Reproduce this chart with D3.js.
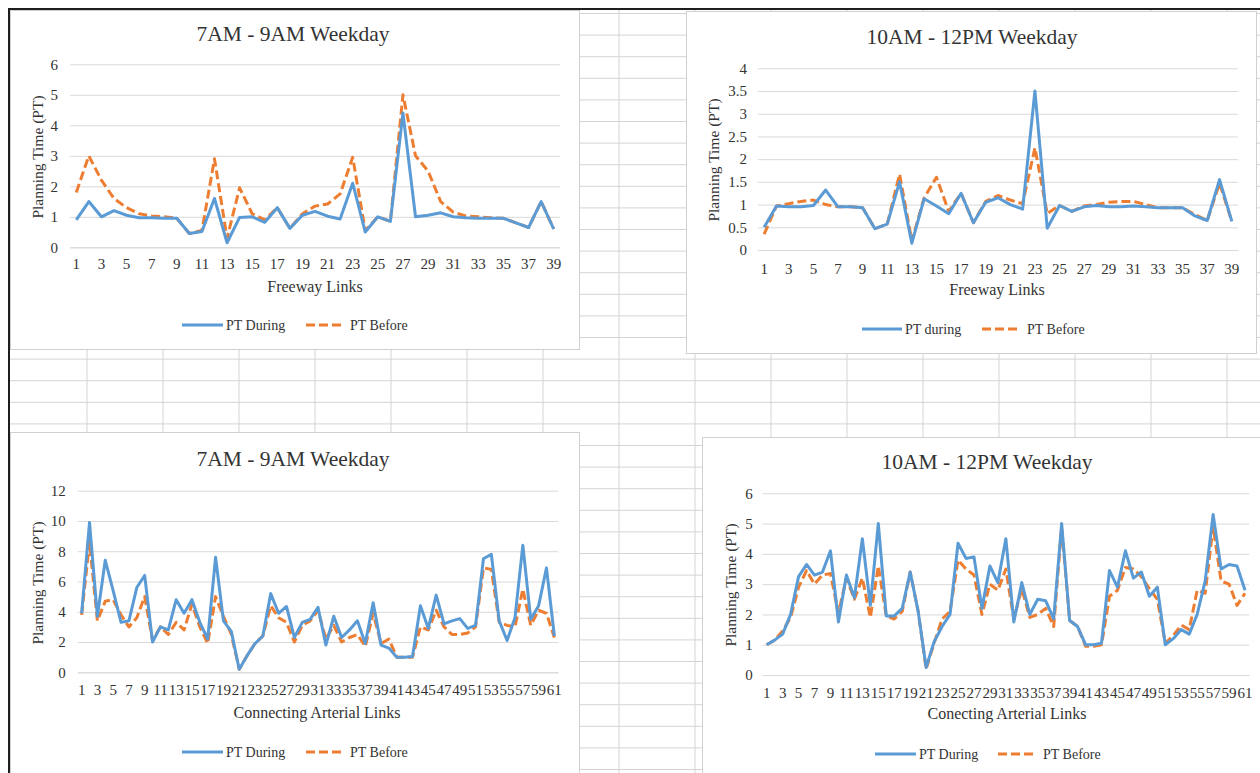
<!DOCTYPE html>
<html>
<head>
<meta charset="utf-8">
<script src="https://cdn.jsdelivr.net/npm/d3@7"></script>
<style>
  body { margin: 0; background: #ffffff; }
  svg { display: block; }
  text { font-family: "Liberation Serif", "Times New Roman", serif; fill: #333333; }
</style>
</head>
<body>
<svg id="chart" width="1260" height="773"></svg>
<script>
// ---------------- DATA ----------------
const freewayLinks = d3.range(1, 40);   // categories 1..39
const arterialLinks = d3.range(1, 62);  // categories 1..61

const freewayTickLabels = freewayLinks.filter(d => d % 2 === 1);
const arterialTickLabels = arterialLinks.filter(d => d % 2 === 1);

const yTicksFreewayAM = [0, 1, 2, 3, 4, 5, 6];
const yTicksFreewayMid = [0, 0.5, 1, 1.5, 2, 2.5, 3, 3.5, 4];
const yTicksArterialAM = [0, 2, 4, 6, 8, 10, 12];
const yTicksArterialMid = [0, 1, 2, 3, 4, 5, 6];

// Freeway 7AM-9AM
const fwAmDuring = [0.9, 1.5, 1.0, 1.2, 1.05, 0.97, 0.97, 0.95, 0.95, 0.45,
  0.52, 1.6, 0.15, 0.98, 1.0, 0.82, 1.3, 0.62, 1.05, 1.18,
  1.02, 0.93, 2.1, 0.5, 1.0, 0.85, 4.4, 1.0, 1.05, 1.13,
  1.0, 0.97, 0.95, 0.95, 0.95, 0.8, 0.65, 1.5, 0.6];
const fwAmBefore = [1.8, 3.0, 2.2, 1.6, 1.3, 1.1, 1.03, 1.0, 0.95, 0.45,
  0.55, 2.9, 0.3, 1.95, 1.1, 0.9, 1.3, 0.62, 1.1, 1.35,
  1.42, 1.75, 2.95, 0.55, 1.0, 0.85, 5.0, 3.0, 2.5, 1.5,
  1.15, 1.03, 1.0, 0.97, 0.95, 0.8, 0.65, 1.5, 0.6];

// Freeway 10AM-12PM
const fwMidDuring = [0.5, 0.97, 0.95, 0.95, 0.98, 1.32, 0.95, 0.95, 0.93, 0.47,
  0.57, 1.5, 0.15, 1.13, 0.97, 0.8, 1.25, 0.6, 1.05, 1.15,
  1.0, 0.9, 3.5, 0.48, 0.98, 0.85, 0.95, 0.98, 0.95, 0.95,
  0.97, 0.95, 0.93, 0.93, 0.93, 0.75, 0.65, 1.55, 0.63];
const fwMidBefore = [0.35, 0.97, 1.02, 1.07, 1.1, 1.0, 0.95, 0.95, 0.93, 0.47,
  0.57, 1.67, 0.2, 1.15, 1.6, 0.85, 1.25, 0.6, 1.07, 1.2,
  1.1, 1.02, 2.25, 0.8, 0.98, 0.85, 0.97, 1.0, 1.05, 1.07,
  1.07, 1.0, 0.93, 0.93, 0.93, 0.78, 0.65, 1.47, 0.63];

// Arterial 7AM-9AM
const artAmDuring = [3.9, 9.9, 3.7, 7.4, 5.4, 3.3, 3.4, 5.6, 6.4, 2.0,
  3.0, 2.8, 4.8, 3.9, 4.8, 3.3, 2.2, 7.6, 3.4, 2.7,
  0.2, 1.1, 1.9, 2.4, 5.2, 3.9, 4.35, 2.3, 3.3, 3.5,
  4.3, 1.8, 3.7, 2.3, 2.8, 3.4, 1.9, 4.6, 1.8, 1.6,
  1.0, 1.0, 1.05, 4.4, 2.9, 5.1, 3.2, 3.4, 3.55, 2.9,
  3.1, 7.5, 7.8, 3.4, 2.1, 3.6, 8.4, 3.5, 4.4, 6.9, 2.4];
const artAmBefore = [3.8, 8.6, 3.4, 4.7, 4.8, 3.8, 3.0, 3.6, 5.0, 2.1,
  3.0, 2.5, 3.3, 2.8, 4.5, 3.0, 1.9, 5.0, 3.7, 2.5,
  0.2, 1.1, 1.9, 2.4, 4.4, 3.6, 3.3, 2.0, 3.1, 3.4,
  4.1, 2.2, 3.1, 2.0, 2.3, 2.5, 1.7, 3.9, 1.9, 2.2,
  1.0, 1.0, 1.0, 3.0, 2.8, 4.1, 3.0, 2.5, 2.5, 2.6,
  3.0, 6.9, 6.8, 3.3, 3.1, 3.0, 5.5, 3.1, 4.1, 3.9, 2.3];

// Arterial 10AM-12PM
const artMidDuring = [1.0, 1.15, 1.35, 2.0, 3.25, 3.65, 3.3, 3.4, 4.1, 1.75,
  3.3, 2.55, 4.5, 2.3, 5.0, 1.95, 1.95, 2.2, 3.4, 2.1,
  0.25, 1.1, 1.6, 2.0, 4.35, 3.85, 3.9, 2.2, 3.6, 3.05,
  4.5, 1.75, 3.05, 2.0, 2.5, 2.45, 1.85, 5.0, 1.8, 1.6,
  1.0, 1.0, 1.05, 3.45, 2.9, 4.1, 3.2, 3.4, 2.6, 2.9,
  1.0, 1.2, 1.5, 1.35, 2.0, 3.1, 5.3, 3.5, 3.65, 3.6, 2.8];
const artMidBefore = [1.0, 1.15, 1.45, 1.9, 2.9, 3.45, 3.0, 3.3, 3.35, 2.05,
  3.2, 2.5, 3.2, 1.9, 3.6, 1.95, 1.85, 2.1, 3.4, 2.1,
  0.2, 1.05, 1.85, 2.1, 3.8, 3.5, 3.3, 2.0, 3.0, 2.8,
  3.5, 1.85, 2.85, 1.9, 2.0, 2.2, 1.6, 4.9, 1.8, 1.6,
  0.95, 0.95, 1.0, 2.6, 2.8, 3.55, 3.5, 3.25, 2.85, 2.5,
  1.05, 1.3, 1.65, 1.5, 2.8, 2.7, 4.9, 3.1, 3.0, 2.3, 2.7];

// ---------------- STYLE ----------------
const BLUE = "#5b9bd5";
const ORANGE = "#ed7d31";
const GRID = "#d9d9d9";
const DASH = "9,4";
const TICK_FONT = "15px";

const svg = d3.select("#chart");

// Spreadsheet background grid
const sheet = svg.append("g");
const colXs = d3.range(1, 17).map(k => 11 + 76 * k);
const rowYs = d3.range(0, 36).map(k => 13.5 + 21.6 * k);
sheet.selectAll("line.col").data(colXs).join("line")
  .attr("x1", d => d).attr("x2", d => d).attr("y1", 9).attr("y2", 773)
  .attr("stroke", "#d4d4d4").attr("stroke-width", 1);
sheet.selectAll("line.row").data(rowYs).join("line")
  .attr("x1", 9).attr("x2", 1260).attr("y1", d => d).attr("y2", d => d)
  .attr("stroke", "#d4d4d4").attr("stroke-width", 1);

function drawChart(cfg) {
  const g = svg.append("g");
  const p = cfg.panel;
  g.append("rect").attr("x", p[0] + 0.5).attr("y", p[1] + 0.5)
    .attr("width", p[2]).attr("height", p[3])
    .attr("fill", "#ffffff").attr("stroke", "#d0d0d0").attr("stroke-width", 1);

  const x = d3.scaleBand().domain(cfg.categories).range([cfg.x0, cfg.x1]).padding(0);
  const cx = d => x(d) + x.bandwidth() / 2;
  const y = d3.scaleLinear().domain([0, cfg.yMax]).range([cfg.y0, cfg.y1]);

  // title
  g.append("text").attr("x", cfg.titleX).attr("y", cfg.titleY)
    .attr("text-anchor", "middle").attr("dy", "0.35em")
    .style("font-size", "21.5px").text(cfg.title);

  // gridlines + y labels
  const yAxis = g.append("g").attr("transform", `translate(${cfg.x0},0)`)
    .call(d3.axisLeft(y).tickValues(cfg.yTicks).tickSize(-(cfg.x1 - cfg.x0))
      .tickPadding(cfg.yPad).tickFormat(d => String(d)));
  yAxis.select(".domain").remove();
  yAxis.selectAll(".tick line").attr("stroke", GRID).attr("stroke-width", 1);
  yAxis.selectAll(".tick text").style("font-size", TICK_FONT)
    .style("font-family", "'Liberation Serif', serif").attr("fill", "#333");

  // x axis
  const xAxis = g.append("g").attr("transform", `translate(0,${cfg.y0})`)
    .call(d3.axisBottom(x).tickValues(cfg.xTicks).tickSize(0).tickPadding(cfg.xPad));
  xAxis.select(".domain").attr("stroke", GRID);
  xAxis.selectAll(".tick text").style("font-size", TICK_FONT)
    .style("font-family", "'Liberation Serif', serif").attr("fill", "#333");

  // axis titles
  g.append("text").attr("x", cfg.xTitleX).attr("y", cfg.xTitleY)
    .attr("text-anchor", "middle").attr("dy", "0.35em")
    .style("font-size", "16px").text(cfg.xTitle);
  g.append("text").attr("transform", `translate(${cfg.yTitleX},${cfg.yTitleY}) rotate(-90)`)
    .attr("text-anchor", "middle").attr("dy", "0.35em")
    .style("font-size", "15.5px").text("Planning Time (PT)");

  // series
  const line = d3.line().x((d, i) => cx(cfg.categories[i])).y(d => y(d));
  g.append("path").datum(cfg.before).attr("d", line)
    .attr("fill", "none").attr("stroke", ORANGE).attr("stroke-width", 3)
    .attr("stroke-dasharray", DASH).attr("stroke-linejoin", "round");
  g.append("path").datum(cfg.during).attr("d", line)
    .attr("fill", "none").attr("stroke", BLUE).attr("stroke-width", 3)
    .attr("stroke-linejoin", "round");

  // legend
  const L = cfg.legend;
  g.append("line").attr("x1", L.b1).attr("x2", L.b2).attr("y1", L.y).attr("y2", L.y)
    .attr("stroke", BLUE).attr("stroke-width", 3);
  g.append("text").attr("x", L.t1).attr("y", L.y).attr("dy", "0.35em")
    .style("font-size", "14px").text(cfg.duringLabel);
  g.append("line").attr("x1", L.o1).attr("x2", L.o2).attr("y1", L.y).attr("y2", L.y)
    .attr("stroke", ORANGE).attr("stroke-width", 3).attr("stroke-dasharray", DASH);
  g.append("text").attr("x", L.t2).attr("y", L.y).attr("dy", "0.35em")
    .style("font-size", "14px").text("PT Before");
}

drawChart({
  panel: [10, 10, 569, 339],
  categories: freewayLinks, xTicks: freewayTickLabels,
  yTicks: yTicksFreewayAM, yMax: 6,
  x0: 70, x1: 560, y0: 247.3, y1: 64.3, yPad: 12, xPad: 11.3,
  title: "7AM - 9AM Weekday", titleX: 293, titleY: 33,
  xTitle: "Freeway Links", xTitleX: 315, xTitleY: 286,
  yTitleX: 38, yTitleY: 157,
  during: fwAmDuring, before: fwAmBefore, duringLabel: "PT During",
  legend: { y: 325, b1: 182, b2: 223, t1: 226, o1: 306, o2: 345, t2: 350 }
});

drawChart({
  panel: [686, 11, 570, 342],
  categories: freewayLinks, xTicks: freewayTickLabels,
  yTicks: yTicksFreewayMid, yMax: 4,
  x0: 758, x1: 1238, y0: 250, y1: 68.3, yPad: 11, xPad: 13.3,
  title: "10AM - 12PM Weekday", titleX: 972, titleY: 36,
  xTitle: "Freeway Links", xTitleX: 997, xTitleY: 289,
  yTitleX: 714, yTitleY: 160,
  during: fwMidDuring, before: fwMidBefore, duringLabel: "PT during",
  legend: { y: 329, b1: 862, b2: 902, t1: 905, o1: 982, o2: 1021, t2: 1027 }
});

drawChart({
  panel: [10, 432, 569, 345],
  categories: arterialLinks, xTicks: arterialTickLabels,
  yTicks: yTicksArterialAM, yMax: 12,
  x0: 77.7, x1: 558.3, y0: 672.3, y1: 490.7, yPad: 12, xPad: 11.8,
  title: "7AM - 9AM Weekday", titleX: 293, titleY: 458,
  xTitle: "Connecting Arterial Links", xTitleX: 317, xTitleY: 712,
  yTitleX: 38, yTitleY: 583,
  during: artAmDuring, before: artAmBefore, duringLabel: "PT During",
  legend: { y: 752, b1: 182, b2: 223, t1: 226, o1: 306, o2: 345, t2: 350 }
});

drawChart({
  panel: [702, 437, 560, 340],
  categories: arterialLinks, xTicks: arterialTickLabels,
  yTicks: yTicksArterialMid, yMax: 6,
  x0: 762.7, x1: 1249, y0: 675, y1: 493.3, yPad: 10, xPad: 12.3,
  title: "10AM - 12PM Weekday", titleX: 987, titleY: 461,
  xTitle: "Conecting Arterial Links", xTitleX: 1007, xTitleY: 713,
  yTitleX: 731, yTitleY: 585,
  during: artMidDuring, before: artMidBefore, duringLabel: "PT During",
  legend: { y: 754, b1: 875, b2: 916, t1: 919, o1: 998, o2: 1037, t2: 1043 }
});

// dark window border (top and left)
svg.append("path").attr("d", "M9,773 L9,9 L1260,9")
  .attr("fill", "none").attr("stroke", "#1e1e1e").attr("stroke-width", 2);
</script>
</body>
</html>
